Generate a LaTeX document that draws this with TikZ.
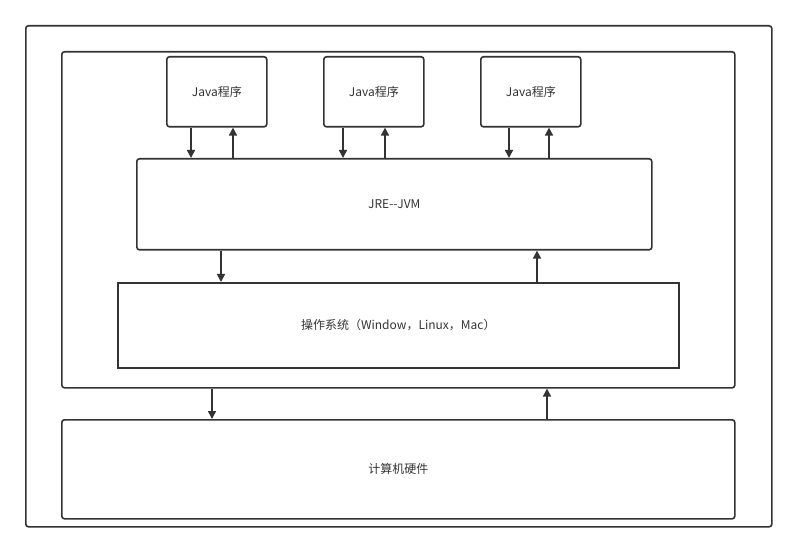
\documentclass[tikz,border=0pt]{standalone}
\usepackage{fontspec}
\setmainfont{Noto Sans CJK SC}
\usetikzlibrary{arrows.meta}
\definecolor{ln}{HTML}{333333}
\begin{document}
\begin{tikzpicture}[x=0.75pt,y=-0.75pt,
  box/.style={draw=ln,line width=1.2pt,rounded corners=2pt,anchor=north west,inner sep=0pt,text=ln,font=\fontsize{9}{11}\selectfont},
  arr/.style={draw=ln,line width=1.2pt,-{Triangle[length=6pt,width=6pt]}}]
\useasboundingbox (0,0) rectangle (796,552);
\node[box,minimum width=746*0.75pt,minimum height=501*0.75pt] (outer) at (25,25) {};
\node[box,minimum width=673*0.75pt,minimum height=336*0.75pt] (inner) at (61,51) {};
\node[box,minimum width=100*0.75pt,minimum height=70*0.75pt] (j1) at (166,56) {Java程序};
\node[box,minimum width=100*0.75pt,minimum height=70*0.75pt] (j2) at (323,56) {Java程序};
\node[box,minimum width=100*0.75pt,minimum height=70*0.75pt] (j3) at (480,56) {Java程序};
\node[box,minimum width=515*0.75pt,minimum height=91*0.75pt] (jre) at (136,158) {JRE{-}{-}JVM};
\node[box,rounded corners=0pt,minimum width=561*0.75pt,minimum height=85*0.75pt] (os) at (117,282) {操作系统（Window，Linux，Mac）};
\node[box,minimum width=673*0.75pt,minimum height=99*0.75pt] (hw) at (61,419) {计算机硬件};
\foreach \n/\d/\u in {j1/191/233,j2/343/385,j3/509/549}{
  \draw[arr] (\n.south -| \d,0) -- (jre.north -| \d,0);
  \draw[arr] (jre.north -| \u,0) -- (\n.south -| \u,0);
}
\draw[arr] (jre.south -| 221,0) -- (os.north -| 221,0);
\draw[arr] (os.north -| 537,0) -- (jre.south -| 537,0);
\draw[arr] (inner.south -| 212,0) -- (hw.north -| 212,0);
\draw[arr] (hw.north -| 547,0) -- (inner.south -| 547,0);
\end{tikzpicture}
\end{document}
